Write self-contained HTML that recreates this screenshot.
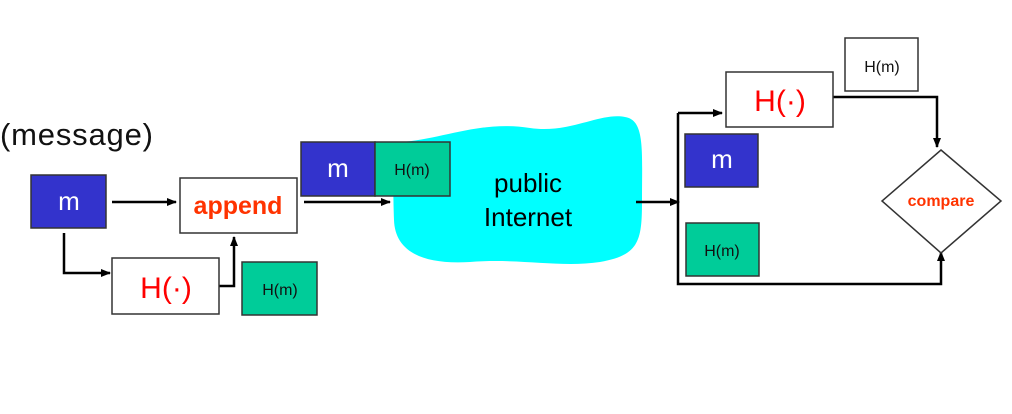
<!DOCTYPE html>
<html><head><meta charset="utf-8"><style>
html,body{margin:0;padding:0;background:#fff;width:1012px;height:414px;overflow:hidden}
svg{display:block}
text{font-family:"Comic Sans MS","Liberation Sans",sans-serif}
</style></head><body>
<svg width="1012" height="414" viewBox="0 0 1012 414" xmlns="http://www.w3.org/2000/svg">
<defs>
<marker id="a" markerWidth="10" markerHeight="10" refX="9" refY="5" orient="auto" markerUnits="userSpaceOnUse">
<path d="M0,1 L10,5 L0,9 z" fill="#000"/></marker>
</defs>
<g stroke="#000" stroke-width="2.5" fill="none">
<path d="M400,142 C440,140 480,120 530,128 C570,134 600,112 625,117 C645,120 642,150 642,200 C642,240 640,255 600,262 C560,268 520,258 470,262 C420,265 395,250 394,220 C393,190 392,145 400,142 Z" fill="#00ffff" stroke="none"/>
<line x1="112" y1="202" x2="176" y2="202" marker-end="url(#a)"/>
<polyline points="64,233 64,273 110,273" marker-end="url(#a)"/>
<polyline points="219,286 234,286 234,237" marker-end="url(#a)"/>
<line x1="304" y1="202" x2="390" y2="202" marker-end="url(#a)"/>
<line x1="636" y1="202" x2="679" y2="202" marker-end="url(#a)"/>
<polyline points="678,113 678,284 941,284 941,252" marker-end="url(#a)"/>
<line x1="678" y1="113" x2="722" y2="113" marker-end="url(#a)"/>
<polyline points="833,97 937,97 937,147" marker-end="url(#a)"/>
</g>
<g stroke="#333" stroke-width="1.5">
<rect x="31" y="175" width="75" height="53" fill="#3333cc"/>
<rect x="180" y="178" width="117" height="55" fill="#fff"/>
<rect x="112" y="258" width="107" height="56" fill="#fff"/>
<rect x="242" y="262" width="75" height="53" fill="#00cc99"/>
<rect x="301" y="142" width="74" height="54" fill="#3333cc"/>
<rect x="375" y="142" width="75" height="54" fill="#00cc99"/>
<rect x="726" y="72" width="107" height="55" fill="#fff"/>
<rect x="845" y="38" width="73" height="53" fill="#fff"/>
<rect x="685" y="134" width="73" height="53" fill="#3333cc"/>
<rect x="686" y="223" width="73" height="53" fill="#00cc99"/>
<polygon points="941,150 1001,201 941,253 882,201" fill="#fff"/>
</g>
<text x="0" y="145" font-size="31" fill="#111" textLength="153">(message)</text>
<g text-anchor="middle">
<text x="69" y="210" font-size="26" fill="#fff">m</text>
<text x="238" y="214" font-size="25" font-weight="bold" fill="#ff3300">append</text>
<text x="166" y="298" font-size="30" fill="#ff0000">H(·)</text>
<text x="280" y="295" font-size="16" fill="#111">H(m)</text>
<text x="338" y="177" font-size="26" fill="#fff">m</text>
<text x="412" y="175" font-size="16" fill="#111">H(m)</text>
<text x="528" y="192" font-size="26" fill="#000">public</text>
<text x="528" y="226" font-size="26" fill="#000">Internet</text>
<text x="780" y="111" font-size="30" fill="#ff0000">H(·)</text>
<text x="882" y="72" font-size="16" fill="#111">H(m)</text>
<text x="722" y="168" font-size="26" fill="#fff">m</text>
<text x="722" y="256" font-size="16" fill="#111">H(m)</text>
<text x="941" y="206" font-size="16" font-weight="bold" fill="#ff3300">compare</text>
</g>
</svg>
</body></html>
